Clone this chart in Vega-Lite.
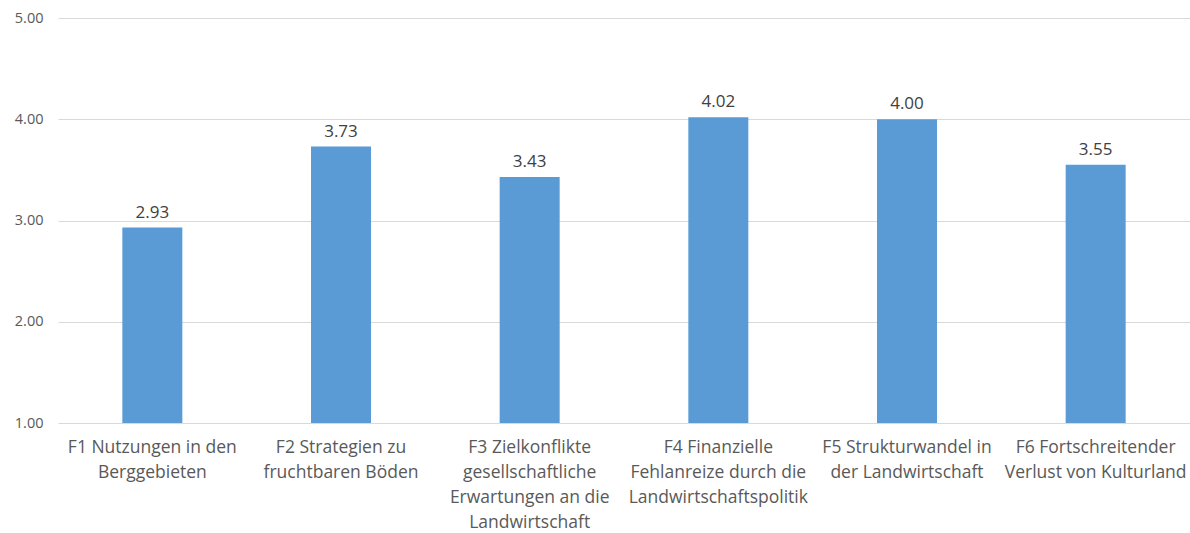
{
  "$schema": "https://vega.github.io/schema/vega-lite/v6.json",
  "width": 1132,
  "height": 405,
  "autosize": "none",
  "padding": {"left": 58, "top": 18, "right": 0, "bottom": 110},
  "background": "white",
  "config": {"view": {"stroke": null}, "font": "Open Sans"},
  "data": {"values": [
    {"cat": "F1 Nutzungen in den|Berggebieten", "value": 2.93},
    {"cat": "F2 Strategien zu|fruchtbaren Böden", "value": 3.73},
    {"cat": "F3 Zielkonflikte|gesellschaftliche|Erwartungen an die|Landwirtschaft", "value": 3.43},
    {"cat": "F4 Finanzielle|Fehlanreize durch die|Landwirtschaftspolitik", "value": 4.02},
    {"cat": "F5 Strukturwandel in|der Landwirtschaft", "value": 4.00},
    {"cat": "F6 Fortschreitender|Verlust von Kulturland", "value": 3.55}
  ]},
  "encoding": {
    "x": {"field": "cat", "type": "nominal", "sort": null,
      "scale": {"paddingInner": 0, "paddingOuter": 0},
      "axis": {"title": null, "labelAngle": 0, "domain": false, "ticks": false,
        "labelExpr": "split(datum.label, '|')", "labelFontSize": 17.5, "labelColor": "#595959",
        "labelLineHeight": 25, "labelPadding": 15, "labelBaseline": "top", "labelLimit": 0, "labelOverlap": false}},
    "y": {"field": "value", "type": "quantitative",
      "scale": {"domain": [1, 5], "nice": false, "zero": false},
      "axis": {"title": null, "values": [1, 2, 3, 4, 5], "format": ".2f", "domain": false, "ticks": false,
        "labelFontSize": 14.5, "labelColor": "#595959", "labelPadding": 15,
        "gridColor": "#D9D9D9", "gridWidth": 1}}
  },
  "layer": [
    {"mark": {"type": "bar", "width": 60, "color": "#5B9BD5"}, "encoding": {"y2": {"datum": 1}}},
    {"mark": {"type": "text", "dy": -15, "fontSize": 17, "color": "#404040"},
      "encoding": {"text": {"field": "value", "type": "quantitative", "format": ".2f"}}}
  ]
}
